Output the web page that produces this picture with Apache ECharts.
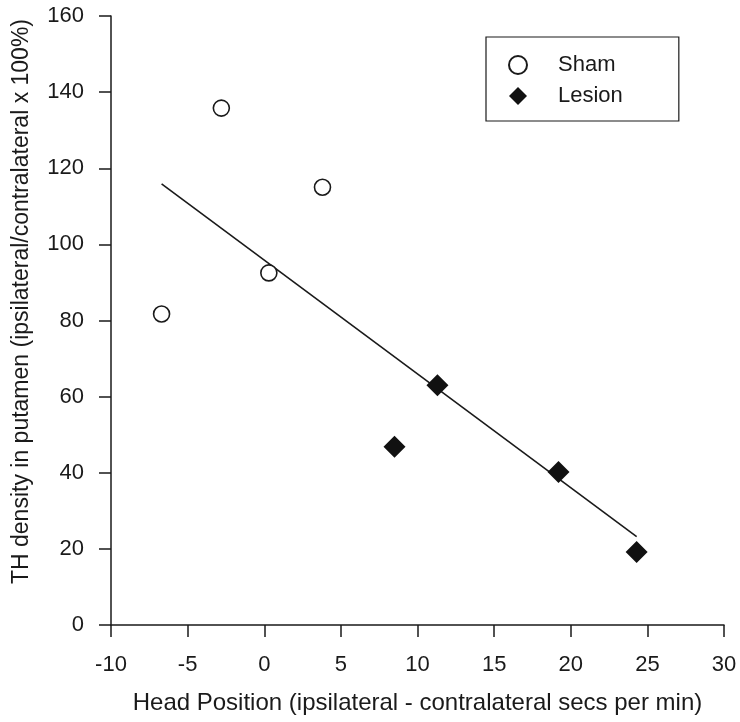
<!DOCTYPE html>
<html>
<head>
<meta charset="utf-8">
<script src="https://cdn.jsdelivr.net/npm/echarts@6/dist/echarts.min.js"></script>
<style>
    html, body { margin: 0; padding: 0; background: #fff; }
    #chartDiv { width: 740px; height: 722px; }
</style>
</head>
<body>
<div id="chartDiv"></div>
<script>
// Values
const shamX = [-6.7, -2.8, 0.3, 3.8];
const shamY = [81.7, 135.8, 92.5, 115.0];
const lesionX = [8.5, 11.3, 19.2, 24.3];
const lesionY = [46.8, 63.0, 40.2, 19.2];
// Fit line end points
const fitX = [-6.7, 24.3];
const fitY = [115.9, 23.2];

const xTicks = [-10, 30, 5];   // min, max, interval
const yTicks = [0, 160, 20];

const FONT = '"Liberation Sans", Arial, sans-serif';
const INK = '#1a1a1a';

function pairs(xs, ys) {
    return xs.map((x, i) => [x, ys[i]]);
}

function renderChart() {
    const chartDom = document.getElementById('chartDiv');
    const myChart = echarts.init(chartDom, null, { renderer: 'canvas' });

    const option = {
        backgroundColor: '#fff',
        animation: false,
        textStyle: { fontFamily: FONT, color: INK },
        grid: { left: 111, right: 16, top: 16, bottom: 97, outerBoundsMode: 'none', containLabel: false },
        legend: {
            data: ['Sham', 'Lesion'],
            orient: 'vertical',
            left: 486,
            top: 37,
            padding: [17, 56, 14, 22],
            itemWidth: 18,
            itemHeight: 18,
            itemGap: 9,
            borderColor: INK,
            borderWidth: 1.2,
            textStyle: { fontSize: 22, color: INK, fontFamily: FONT, padding: [0, 0, 0, 26] }
        },
        xAxis: {
            type: 'value',
            min: xTicks[0],
            max: xTicks[1],
            interval: xTicks[2],
            name: 'Head Position (ipsilateral - contralateral secs per min)',
            nameLocation: 'middle',
            nameGap: 66,
            nameTextStyle: { fontSize: 24, color: INK, fontFamily: FONT },
            axisLine: { onZero: false, lineStyle: { color: INK, width: 1.5 } },
            axisTick: { length: 12, lineStyle: { color: INK, width: 1.5 } },
            axisLabel: { fontSize: 22, color: INK, margin: 29, fontFamily: FONT },
            splitLine: { show: false }
        },
        yAxis: {
            type: 'value',
            min: yTicks[0],
            max: yTicks[1],
            interval: yTicks[2],
            name: 'TH density in putamen (ipsilateral/contralateral x 100%)',
            nameLocation: 'middle',
            nameGap: 78,
            nameTextStyle: { fontSize: 23, color: INK, fontFamily: FONT, padding: [0, 0, 0, 38] },
            axisLine: { show: true, onZero: false, lineStyle: { color: INK, width: 1.5 } },
            axisTick: { length: 12, lineStyle: { color: INK, width: 1.5 } },
            axisLabel: { fontSize: 22, color: INK, margin: 27, fontFamily: FONT },
            splitLine: { show: false }
        },
        series: [
            {
                name: 'Sham',
                type: 'scatter',
                symbol: 'circle',
                symbolSize: 16,
                data: pairs(shamX, shamY),
                itemStyle: { color: '#fff', borderColor: INK, borderWidth: 1.6, opacity: 1 },
                z: 3
            },
            {
                name: 'Lesion',
                type: 'scatter',
                symbol: 'diamond',
                symbolSize: 22,
                data: pairs(lesionX, lesionY),
                itemStyle: { color: '#111', opacity: 1 },
                z: 3
            },
            {
                name: 'fit',
                type: 'line',
                data: pairs(fitX, fitY),
                symbol: 'none',
                lineStyle: { color: INK, width: 1.6 },
                z: 2
            }
        ]
    };

    myChart.setOption(option);
}

renderChart();
</script>
</body>
</html>
